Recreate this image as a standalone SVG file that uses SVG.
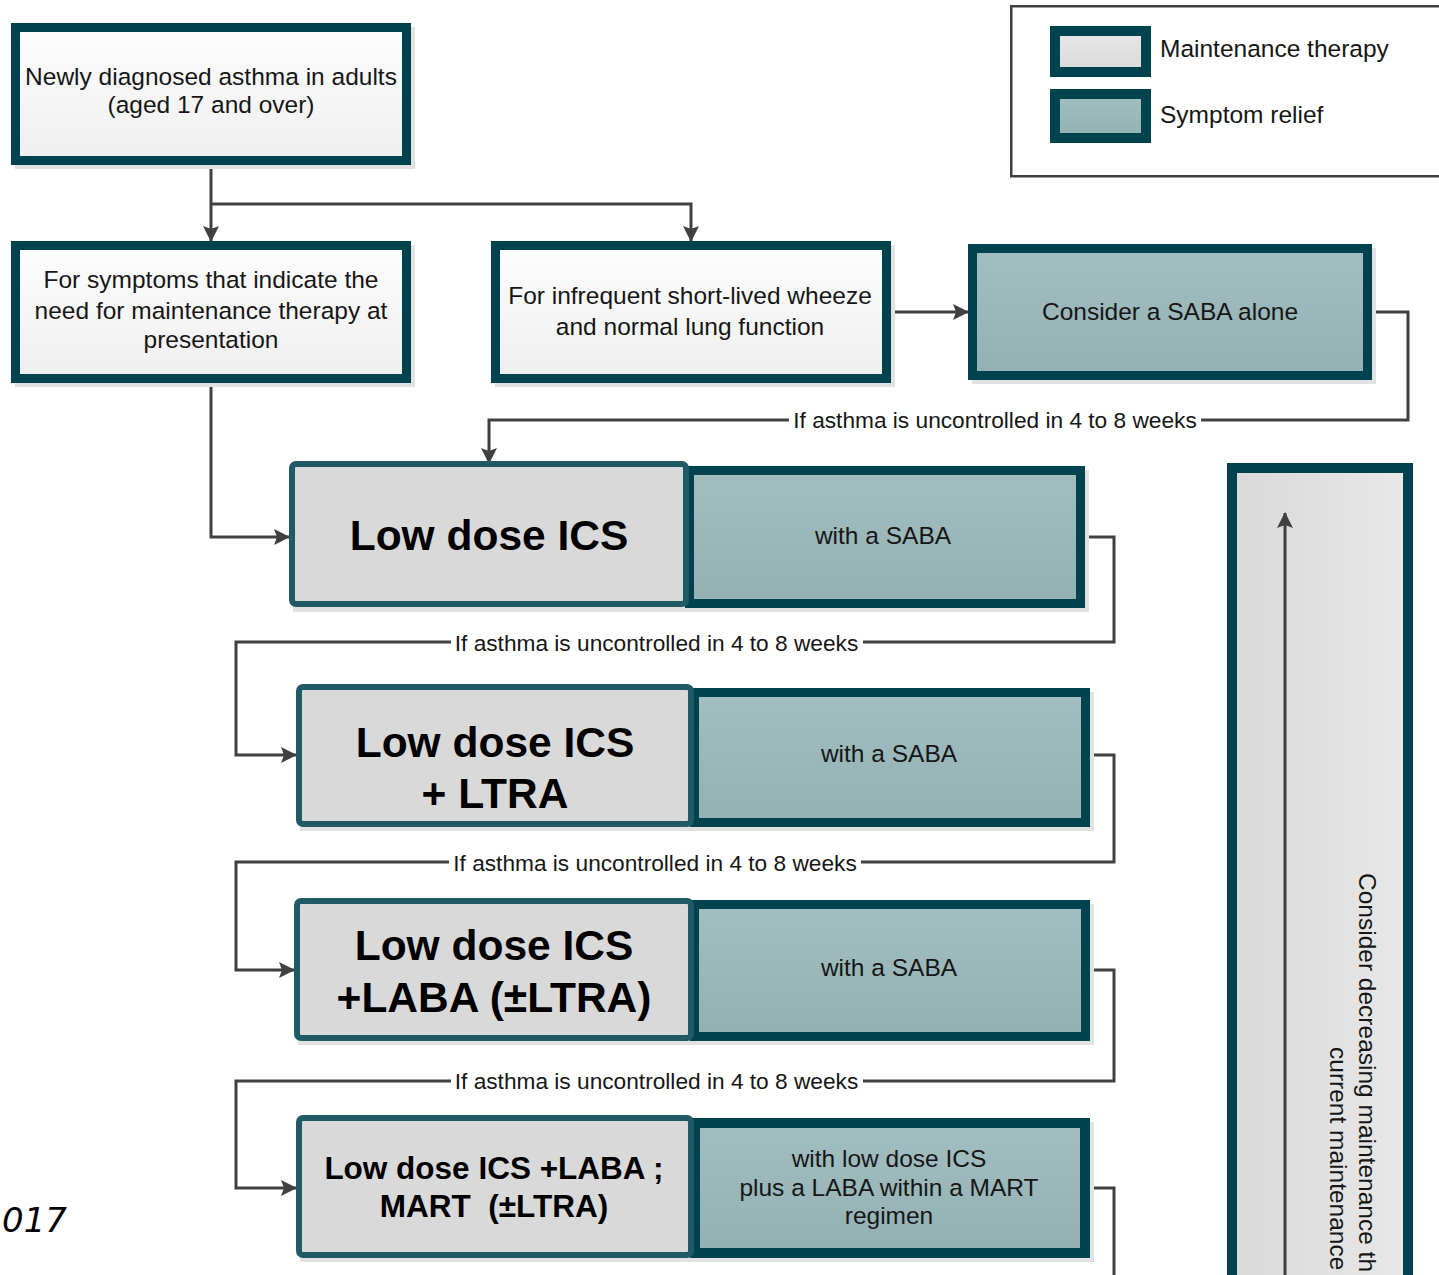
<svg xmlns="http://www.w3.org/2000/svg" width="1439" height="1275" viewBox="0 0 1439 1275">
  <defs>
    <linearGradient id="gWhite" x1="0" y1="0" x2="0" y2="1">
      <stop offset="0" stop-color="#fdfdfd"/>
      <stop offset="1" stop-color="#efefef"/>
    </linearGradient>
    <linearGradient id="gTeal" x1="0" y1="0" x2="0" y2="1">
      <stop offset="0" stop-color="#a2bec0"/>
      <stop offset="1" stop-color="#93b0b2"/>
    </linearGradient>
    <linearGradient id="gGrey" x1="0" y1="0" x2="0" y2="1">
      <stop offset="0" stop-color="#e8e8e8"/>
      <stop offset="1" stop-color="#dadada"/>
    </linearGradient>
    <linearGradient id="gSide" x1="0" y1="0" x2="1" y2="0">
      <stop offset="0" stop-color="#d9d9d9"/>
      <stop offset="1" stop-color="#e8e8e8"/>
    </linearGradient>
    <marker id="arr" viewBox="0 0 16 16" refX="15" refY="8" markerWidth="16" markerHeight="16" markerUnits="userSpaceOnUse" orient="auto">
      <path d="M0,0 L16,8 L0,16 L3,8 z" fill="#404040"/>
    </marker>
    <style>
      .txt { font-family: "Liberation Sans", Arial, sans-serif; font-size: 24.5px; fill: #161616; text-anchor: middle; }
      .leg { text-anchor: start; }
      .big { font-family: "Liberation Sans", Arial, sans-serif; font-weight: bold; font-size: 42.5px; fill: #000; text-anchor: middle; white-space: pre; }
      .mid { font-size: 31.5px; }
      .cond { font-family: "Liberation Sans", Arial, sans-serif; font-size: 22.7px; fill: #161616; text-anchor: middle; }
      .note { fill: #ffffff; }
      .shadow { fill: #e2e2e2; }
      .start { fill: url(#gWhite); stroke: #00434f; stroke-width: 9; }
      .relief { fill: url(#gTeal); stroke: #00434f; stroke-width: 9; }
      .maint { fill: #d9d9d9; stroke: #1f5a66; stroke-width: 6; }
      .wire { fill: none; stroke: #404040; stroke-width: 3; }
    </style>
  </defs>

  <rect width="1439" height="1275" fill="#ffffff"/>

  <!-- legend -->
  <g id="legend">
    <rect x="1011.25" y="6.25" width="440" height="170" fill="#ffffff" stroke="#404040" stroke-width="2.5"/>
    <rect x="1055" y="31" width="91" height="41" fill="url(#gGrey)" stroke="#00434f" stroke-width="10"/>
    <rect x="1055" y="94" width="91" height="44" fill="url(#gTeal)" stroke="#00434f" stroke-width="10"/>
    <text class="txt leg" x="1160" y="57">Maintenance therapy</text>
    <text class="txt leg" x="1160" y="123">Symptom relief</text>
  </g>

  <!-- connectors -->
  <g id="connectors">
    <path class="wire" d="M211,165 V241" marker-end="url(#arr)"/>
    <path class="wire" d="M211,204 H691 V241" marker-end="url(#arr)"/>
    <path class="wire" d="M891,312 H968" marker-end="url(#arr)"/>
    <path class="wire" d="M1372,312 H1408 V420 H489 V463" marker-end="url(#arr)"/>
    <path class="wire" d="M211,383 V537 H289" marker-end="url(#arr)"/>
    <path class="wire" d="M1085,537 H1114 V642 H236 V755 H296" marker-end="url(#arr)"/>
    <path class="wire" d="M1090,755 H1114 V862 H236 V970 H294" marker-end="url(#arr)"/>
    <path class="wire" d="M1090,970 H1114 V1081 H236 V1188 H296" marker-end="url(#arr)"/>
    <path class="wire" d="M1090,1188 H1114 V1276"/>

    <rect class="note" x="789" y="410" width="412" height="20"/>
    <text class="cond" x="995" y="428">If asthma is uncontrolled in 4 to 8 weeks</text>
    <rect class="note" x="451" y="632" width="412" height="20"/>
    <text class="cond" x="656.5" y="651">If asthma is uncontrolled in 4 to 8 weeks</text>
    <rect class="note" x="449" y="852" width="412" height="20"/>
    <text class="cond" x="655" y="871">If asthma is uncontrolled in 4 to 8 weeks</text>
    <rect class="note" x="451" y="1071" width="412" height="20"/>
    <text class="cond" x="656.5" y="1089">If asthma is uncontrolled in 4 to 8 weeks</text>
  </g>

  <!-- entry node -->
  <g id="node-newly-diagnosed">
    <rect class="shadow" x="15" y="27" width="400" height="142"/>
    <rect class="start" x="15.5" y="27.5" width="391" height="133"/>
    <text class="txt" x="211" y="85">Newly diagnosed asthma in adults</text>
    <text class="txt" x="211" y="113">(aged 17 and over)</text>
  </g>

  <g id="node-maintenance-need">
    <rect class="shadow" x="15" y="245" width="400" height="142"/>
    <rect class="start" x="15.5" y="245.5" width="391" height="133"/>
    <text class="txt" x="211" y="288">For symptoms that indicate the</text>
    <text class="txt" x="211" y="319">need for maintenance therapy at</text>
    <text class="txt" x="211" y="348">presentation</text>
  </g>

  <g id="node-infrequent">
    <rect class="shadow" x="495" y="245" width="400" height="142"/>
    <rect class="start" x="495.5" y="245.5" width="391" height="133"/>
    <text class="txt" x="690" y="304">For infrequent short-lived wheeze</text>
    <text class="txt" x="690" y="335">and normal lung function</text>
  </g>

  <g id="node-saba-alone">
    <rect class="shadow" x="972" y="248" width="404" height="136"/>
    <rect class="relief" x="972.5" y="248.5" width="395" height="127"/>
    <text class="txt" x="1170" y="320">Consider a SABA alone</text>
  </g>

  <!-- step 1 -->
  <g id="node-step1">
    <rect class="shadow" x="293" y="470" width="796" height="142"/>
    <rect class="relief" x="689.5" y="470.5" width="391" height="133"/>
    <rect class="maint" x="292" y="464" width="394" height="140" rx="4"/>
    <text class="big" x="489" y="550">Low dose ICS</text>
    <text class="txt" x="883" y="544">with a SABA</text>
  </g>

  <!-- step 2 -->
  <g id="node-step2">
    <rect class="shadow" x="300" y="692" width="794" height="139"/>
    <rect class="relief" x="694.5" y="692.5" width="391" height="130"/>
    <rect class="maint" x="299" y="687" width="392" height="137" rx="4"/>
    <text class="big" x="495" y="757">Low dose ICS</text>
    <text class="big" x="495" y="808">+ LTRA</text>
    <text class="txt" x="889" y="762">with a SABA</text>
  </g>

  <!-- step 3 -->
  <g id="node-step3">
    <rect class="shadow" x="298" y="904" width="796" height="141"/>
    <rect class="relief" x="694.5" y="904.5" width="391" height="132"/>
    <rect class="maint" x="297" y="901" width="394" height="137" rx="4"/>
    <text class="big" x="494" y="960">Low dose ICS</text>
    <text class="big" x="494" y="1012">+LABA (±LTRA)</text>
    <text class="txt" x="889" y="976">with a SABA</text>
  </g>

  <!-- step 4 -->
  <g id="node-step4">
    <rect class="shadow" x="300" y="1122" width="794" height="140"/>
    <rect class="relief" x="695" y="1123" width="390" height="130" style="stroke-width:10"/>
    <rect class="maint" x="299" y="1118" width="392" height="137" rx="4"/>
    <text class="big mid" x="494" y="1179">Low dose ICS +LABA ;</text>
    <text class="big mid" x="494" y="1217">MART  (±LTRA)</text>
    <text class="txt" x="889" y="1167">with low dose ICS</text>
    <text class="txt" x="889" y="1196">plus a LABA within a MART</text>
    <text class="txt" x="889" y="1224">regimen</text>
  </g>

  <!-- step-down bar -->
  <g id="node-step-down">
    <rect x="1232" y="468" width="176" height="830" fill="url(#gSide)" stroke="#00434f" stroke-width="10"/>
    <path class="wire" d="M1285,1276 V513" marker-end="url(#arr)"/>
    <text class="txt leg" transform="translate(1359,873) rotate(90)">Consider decreasing maintenance th</text>
    <text class="txt leg" transform="translate(1330,1047) rotate(90)">current maintenance</text>
  </g>

  <!-- year mark -->
  <text x="2" y="1232" font-family="'DejaVu Sans', sans-serif" font-style="italic" font-size="34" font-weight="300" fill="#000">017</text>
</svg>
